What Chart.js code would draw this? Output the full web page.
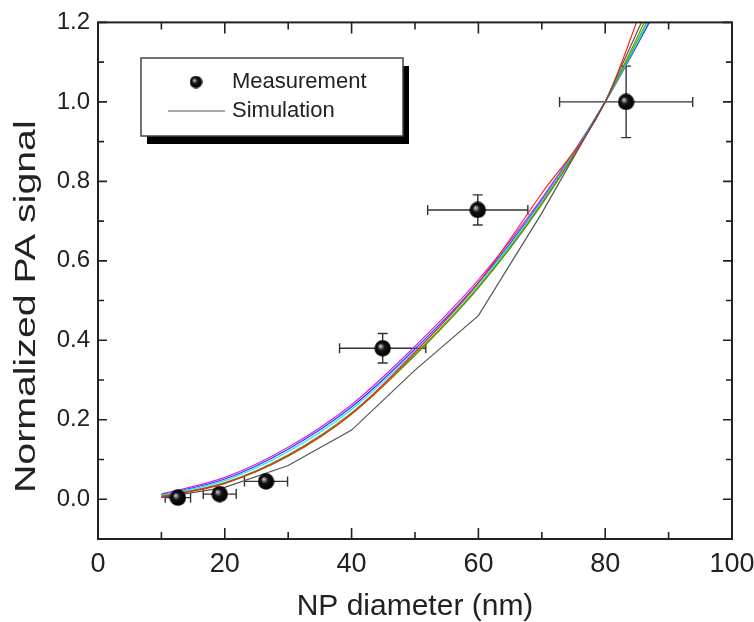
<!DOCTYPE html>
<html>
<head>
<meta charset="utf-8">
<script src="https://cdn.jsdelivr.net/npm/chart.js@4"></script>
<style>
  body { margin: 0; background: #fff; }
  #wrap { width: 754px; height: 622px; }
</style>
</head>
<body>
<div id="wrap"><canvas id="paChart" width="754" height="622"></canvas></div>
<script>
// simulated PA signal vs diameter, one array per curve
const simDiameter = [10, 20, 30, 40, 50, 60, 70, 80, 90];
const simBlack   = [0.004, 0.030, 0.085, 0.174, 0.325, 0.462, 0.720, 1.0, 1.35];
const simRed     = [0.006, 0.040, 0.110, 0.215, 0.370, 0.545, 0.770, 1.0, 1.43];
const simOlive   = [0.007, 0.040, 0.108, 0.214, 0.362, 0.532, 0.742, 1.0, 1.33];
const simGreen   = [0.008, 0.042, 0.112, 0.218, 0.365, 0.535, 0.745, 1.0, 1.31];
const simCyan    = [0.010, 0.047, 0.120, 0.226, 0.372, 0.540, 0.750, 1.0, 1.30];
const simBlue    = [0.011, 0.051, 0.126, 0.232, 0.378, 0.545, 0.752, 1.0, 1.29];
const simMagenta = [0.013, 0.055, 0.131, 0.238, 0.385, 0.552, 0.757, 1.0, 1.29];
const simColors  = ['#555555', '#ff2020', '#808000', '#22cc22', '#30e0f0', '#2040ff', '#e020e0'];

// measured points
const measDiameter    = [12.6, 19.2, 26.5, 44.9, 59.9, 83.3];
const measSignal      = [0.004, 0.013, 0.045, 0.38, 0.728, 1.0];
const measDiameterErr = [2.0, 2.6, 3.4, 6.8, 7.9, 10.5];
const measSignalErr   = [0, 0, 0, 0.037, 0.038, 0.09];

const xTicks = [0, 20, 40, 60, 80, 100];
const xMinorTicks = [10, 30, 50, 70, 90];
const yTicks = [0, 0.2, 0.4, 0.6, 0.8, 1.0, 1.2];
const yMinorTicks = [0.1, 0.3, 0.5, 0.7, 0.9, 1.1];

const FONT = "'Liberation Sans', Arial, sans-serif";

function makeBall(d) {
  const c = document.createElement('canvas');
  c.width = c.height = d;
  const g = c.getContext('2d');
  const r = d / 2;
  const grad = g.createRadialGradient(r * 0.7, r * 0.72, 0, r, r, r);
  grad.addColorStop(0, '#f2f2f6');
  grad.addColorStop(0.16, '#8c8c9c');
  grad.addColorStop(0.42, '#141414');
  grad.addColorStop(1, '#000');
  g.fillStyle = grad;
  g.beginPath(); g.arc(r, r, r - 0.3, 0, Math.PI * 2); g.fill();
  return c;
}
const ball = makeBall(17);
const legendBall = makeBall(13);

const errorBars = {
  id: 'errorBars',
  beforeDatasetsDraw(chart) {
    const { ctx, scales: { x, y } } = chart;
    ctx.save();
    ctx.strokeStyle = '#333';
    ctx.lineWidth = 1.4;
    const cap = 5;
    measDiameter.forEach((d, i) => {
      const px = x.getPixelForValue(d), py = y.getPixelForValue(measSignal[i]);
      const x0 = x.getPixelForValue(d - measDiameterErr[i]), x1 = x.getPixelForValue(d + measDiameterErr[i]);
      ctx.beginPath();
      ctx.moveTo(x0, py); ctx.lineTo(x1, py);
      ctx.moveTo(x0, py - cap); ctx.lineTo(x0, py + cap);
      ctx.moveTo(x1, py - cap); ctx.lineTo(x1, py + cap);
      if (measSignalErr[i] > 0) {
        const y0 = y.getPixelForValue(measSignal[i] - measSignalErr[i]), y1 = y.getPixelForValue(measSignal[i] + measSignalErr[i]);
        ctx.moveTo(px, y0); ctx.lineTo(px, y1);
        ctx.moveTo(px - cap, y0); ctx.lineTo(px + cap, y0);
        ctx.moveTo(px - cap, y1); ctx.lineTo(px + cap, y1);
      }
      ctx.stroke();
    });
    ctx.restore();
  }
};

const frame = {
  id: 'frame',
  afterDatasetsDraw(chart) {
    const { ctx, chartArea: a, scales: { x, y } } = chart;
    ctx.save();
    ctx.strokeStyle = '#222';
    ctx.lineWidth = 2;
    ctx.strokeRect(a.left, a.top, a.right - a.left, a.bottom - a.top);
    ctx.lineWidth = 1.6;
    ctx.beginPath();
    const xt = (vals, len) => vals.forEach(v => {
      const p = x.getPixelForValue(v);
      ctx.moveTo(p, a.bottom); ctx.lineTo(p, a.bottom - len);
      ctx.moveTo(p, a.top); ctx.lineTo(p, a.top + len);
    });
    const yt = (vals, len) => vals.forEach(v => {
      const p = y.getPixelForValue(v);
      ctx.moveTo(a.left, p); ctx.lineTo(a.left + len, p);
      ctx.moveTo(a.right, p); ctx.lineTo(a.right - len, p);
    });
    xt(xTicks, 11); xt(xMinorTicks, 7);
    yt(yTicks, 9); yt(yMinorTicks, 6);
    ctx.stroke();
    ctx.restore();
  }
};

const boxLegend = {
  id: 'boxLegend',
  afterDraw(chart) {
    const { ctx } = chart;
    const bx = 141, by = 58, bw = 262, bh = 78;
    ctx.save();
    ctx.fillStyle = '#000';
    ctx.fillRect(bx + 6, by + 8, bw, bh);
    ctx.fillStyle = '#fff';
    ctx.fillRect(bx, by, bw, bh);
    ctx.strokeStyle = '#444';
    ctx.lineWidth = 1.5;
    ctx.strokeRect(bx, by, bw, bh);
    ctx.drawImage(legendBall, 196 - 6.5, 82 - 6.5);
    ctx.strokeStyle = '#555';
    ctx.lineWidth = 1.2;
    ctx.beginPath(); ctx.moveTo(168, 111); ctx.lineTo(225, 111); ctx.stroke();
    ctx.fillStyle = '#222';
    ctx.font = `22px ${FONT}`;
    ctx.textBaseline = 'middle';
    ctx.fillText(chart.data.datasets[0].label, 232, 82);
    ctx.fillText(chart.data.datasets[1].label, 232, 111);
    ctx.restore();
  }
};

const yTitle = {
  id: 'yTitle',
  afterDraw(chart) {
    const { ctx, chartArea: a } = chart;
    ctx.save();
    ctx.translate(27, (a.top + a.bottom) / 2 + 26);
    ctx.rotate(-Math.PI / 2);
    ctx.scale(1.31, 1);
    ctx.fillStyle = '#222';
    ctx.font = `30px ${FONT}`;
    ctx.textAlign = 'center';
    ctx.textBaseline = 'middle';
    ctx.fillText('Normalized PA signal', 0, 0);
    ctx.restore();
  }
};

const simSeries = [simBlack, simRed, simOlive, simGreen, simCyan, simBlue, simMagenta];
const datasets = [{
  label: 'Measurement',
  data: measDiameter.map((d, i) => ({ x: d, y: measSignal[i] })),
  pointStyle: ball,
  pointRadius: 8,
  showLine: false
}].concat(simSeries.map((vals, k) => ({
  label: 'Simulation',
  data: simDiameter.map((d, i) => ({ x: d, y: vals[i] })),
  showLine: true,
  borderColor: simColors[k],
  borderWidth: 1.2,
  pointRadius: 0,
  cubicInterpolationMode: k === 0 ? 'default' : 'monotone',
  tension: 0
})));

new Chart(document.getElementById('paChart').getContext('2d'), {
  type: 'scatter',
  data: { datasets },
  options: {
    responsive: false,
    animation: false,
    devicePixelRatio: 1,
    layout: { padding: { left: 0, right: 22, top: 22, bottom: 0 } },
    plugins: { legend: { display: false }, tooltip: { enabled: false } },
    scales: {
      x: {
        min: 0, max: 100,
        grid: { display: false, drawTicks: false },
        border: { display: false },
        afterBuildTicks: s => { s.ticks = xTicks.map(v => ({ value: v })); },
        afterFit: s => { s.height = 83; s.paddingLeft = 0; s.paddingRight = 0; },
        ticks: { padding: 9, color: '#222', font: { family: FONT, size: 27 }, callback: v => String(v) },
        title: { display: true, text: 'NP diameter (nm)', color: '#222', font: { family: FONT, size: 30, lineHeight: 1 }, padding: { top: 0, bottom: 0 } }
      },
      y: {
        min: -0.1, max: 1.2,
        grid: { display: false, drawTicks: false },
        border: { display: false },
        afterBuildTicks: s => { s.ticks = yTicks.map(v => ({ value: v })); },
        afterFit: s => { s.width = 98; },
        ticks: { padding: 8, color: '#222', font: { family: FONT, size: 24 }, callback: v => v.toFixed(1) }
      }
    }
  },
  plugins: [errorBars, frame, boxLegend, yTitle]
});
</script>
</body>
</html>
